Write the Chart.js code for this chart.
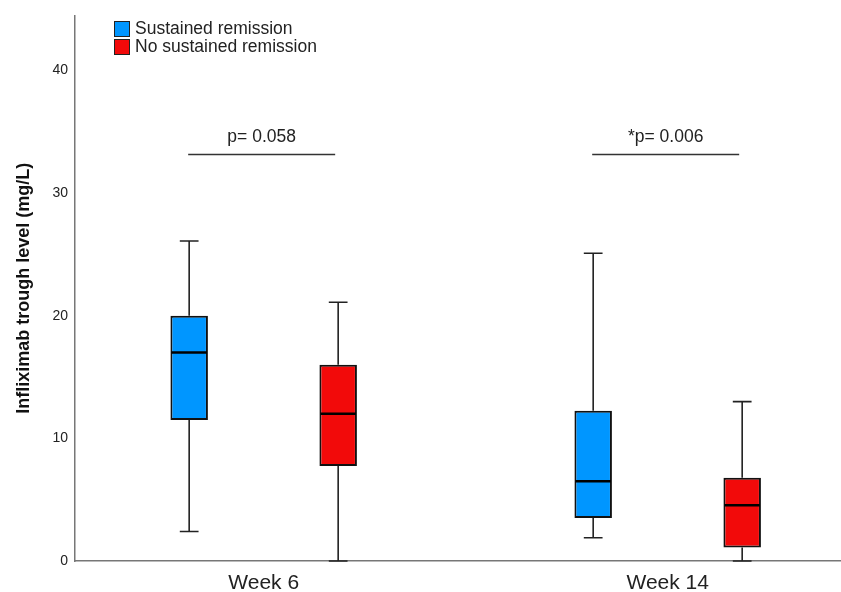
<!DOCTYPE html>
<html>
<head>
<meta charset="utf-8">
<script src="https://cdn.jsdelivr.net/npm/chart.js@4.4.1/dist/chart.umd.min.js"></script>
<style>
  html, body { margin: 0; padding: 0; background: #fff; overflow: hidden; }
  canvas { display: block; }
</style>
</head>
<body>
<canvas id="c" width="841" height="592"></canvas>
<script>
// ---- data ----
const categories = ['Week 6', 'Week 14'];
const seriesNames = ['Sustained remission', 'No sustained remission'];

const sustainedMin    = [2.4, 1.9];
const sustainedQ1     = [11.5, 3.5];
const sustainedMedian = [17.0, 6.5];
const sustainedQ3     = [20.0, 12.25];
const sustainedMax    = [26.1, 25.1];

const noSustainedMin    = [0.0, 0.0];
const noSustainedQ1     = [7.75, 1.1];
const noSustainedMedian = [12.0, 4.55];
const noSustainedQ3     = [16.0, 6.8];
const noSustainedMax    = [21.1, 13.0];

const yTicks = [0, 10, 20, 30, 40];
const pLabels = ['p= 0.058', '*p= 0.006'];
const pLevel = [33.15, 33.15];

// ---- styles ----
const FONT = 'Arial, "Liberation Sans", sans-serif';
const blue = '#0096FF';
const red = '#F20A0A';

function boxData(q1, q3) {
  return categories.map((c, i) => ({ x: i + 1, y: [q1[i], q3[i]] }));
}

const datasets = [
  {
    label: seriesNames[0],
    data: boxData(sustainedQ1, sustainedQ3),
    stats: { min: sustainedMin, median: sustainedMedian, max: sustainedMax },
    backgroundColor: blue
  },
  {
    label: seriesNames[1],
    data: boxData(noSustainedQ1, noSustainedQ3),
    stats: { min: noSustainedMin, median: noSustainedMedian, max: noSustainedMax },
    backgroundColor: red
  }
];

const boxPlugin = {
  id: 'boxWhiskers',
  beforeDatasetsDraw(chart) {
    const ctx = chart.ctx, y = chart.scales.y;
    ctx.save();
    ctx.strokeStyle = '#222';
    ctx.lineWidth = 1.6;
    chart.data.datasets.forEach((ds, d) => {
      const meta = chart.getDatasetMeta(d);
      meta.data.forEach((el, i) => {
        const x = el.x, half = el.width / 4;
        const yMax = y.getPixelForValue(ds.stats.max[i]);
        const yMin = y.getPixelForValue(ds.stats.min[i]);
        const yTop = y.getPixelForValue(ds.data[i].y[1]);
        const yBot = y.getPixelForValue(ds.data[i].y[0]);
        ctx.beginPath();
        ctx.moveTo(x, yTop); ctx.lineTo(x, yMax);
        ctx.moveTo(x - half, yMax); ctx.lineTo(x + half, yMax);
        ctx.moveTo(x, yBot); ctx.lineTo(x, yMin);
        ctx.moveTo(x - half, yMin); ctx.lineTo(x + half, yMin);
        ctx.stroke();
      });
    });
    ctx.restore();
  },
  afterDatasetsDraw(chart) {
    const ctx = chart.ctx, y = chart.scales.y;
    ctx.save();
    ctx.strokeStyle = '#000';
    ctx.lineWidth = 2.5;
    chart.data.datasets.forEach((ds, d) => {
      const meta = chart.getDatasetMeta(d);
      meta.data.forEach((el, i) => {
        const ym = y.getPixelForValue(ds.stats.median[i]);
        ctx.beginPath();
        ctx.moveTo(el.x - el.width / 2 + 1, ym);
        ctx.lineTo(el.x + el.width / 2 - 1, ym);
        ctx.stroke();
      });
    });
    ctx.restore();
  },
  afterDraw(chart) {
    const ctx = chart.ctx, y = chart.scales.y;
    const m0 = chart.getDatasetMeta(0), m1 = chart.getDatasetMeta(1);
    ctx.save();
    // significance bars
    ctx.strokeStyle = '#333';
    ctx.lineWidth = 1.5;
    ctx.fillStyle = '#222';
    ctx.font = '17.5px ' + FONT;
    ctx.textAlign = 'center';
    ctx.textBaseline = 'middle';
    pLabels.forEach((t, i) => {
      const x1 = m0.data[i].x - 1, x2 = m1.data[i].x - 3;
      const py = y.getPixelForValue(pLevel[i]);
      ctx.beginPath();
      ctx.moveTo(x1, py); ctx.lineTo(x2, py);
      ctx.stroke();
      ctx.fillText(t, (x1 + x2) / 2, py - 17);
    });
    // legend
    const lx = chart.chartArea.left + 39, ly = 21;
    ctx.textAlign = 'left';
    ctx.font = '17.5px ' + FONT;
    chart.data.datasets.forEach((ds, d) => {
      const top = ly + d * 18;
      ctx.fillStyle = ds.backgroundColor;
      ctx.fillRect(lx, top, 16, 16);
      ctx.strokeStyle = '#222';
      ctx.lineWidth = 1;
      ctx.strokeRect(lx + 0.5, top + 0.5, 15, 15);
      ctx.fillStyle = '#222';
      ctx.fillText(ds.label, lx + 21, top + 8.5);
    });
    ctx.restore();
  }
};

new Chart(document.getElementById('c'), {
  type: 'bar',
  data: { datasets },
  options: {
    responsive: false,
    animation: false,
    layout: { padding: { top: 13, right: 0, bottom: 0, left: 0 } },
    categoryPercentage: 0.7376,
    barPercentage: 0.2517,
    datasets: {
      bar: { borderWidth: 2, borderColor: '#111', borderSkipped: false, grouped: true }
    },
    plugins: { legend: { display: false }, tooltip: { enabled: false } },
    scales: {
      x: {
        type: 'linear',
        offset: false,
        min: 0.533,
        max: 2.429,
        grid: { display: false, drawTicks: false, offset: false },
        border: { display: true, color: '#777', width: 1.5 },
        afterBuildTicks: (s) => { s.ticks = categories.map((c, i) => ({ value: i + 1 })); },
        afterFit: (s) => { s.height = 31; },
        ticks: {
          autoSkip: false,
          maxRotation: 0,
          padding: 10,
          color: '#222',
          font: { family: FONT, size: 21 },
          callback: (v, i) => categories[i]
        }
      },
      y: {
        min: 0,
        max: 44.5,
        grid: { display: false, drawTicks: false },
        border: { display: true, color: '#777', width: 1.5 },
        afterBuildTicks: (s) => { s.ticks = yTicks.map(v => ({ value: v })); },
        afterFit: (s) => { s.width = 75; },
        ticks: {
          padding: 7,
          color: '#222',
          font: { family: FONT, size: 14 }
        },
        title: {
          display: true,
          text: 'Infliximab trough level (mg/L)',
          color: '#111',
          font: { family: FONT, size: 18, weight: 'bold' },
          padding: { top: 13, bottom: 0 }
        }
      }
    }
  },
  plugins: [boxPlugin]
});
</script>
</body>
</html>
